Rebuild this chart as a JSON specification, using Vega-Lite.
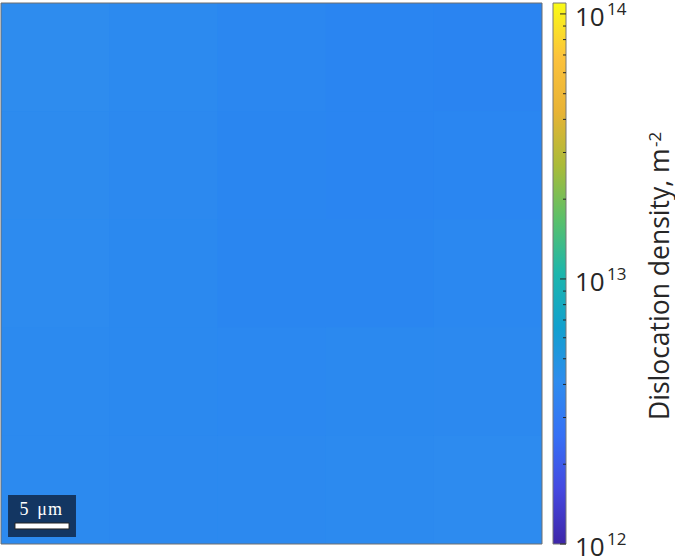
{
  "$schema": "https://vega.github.io/schema/vega-lite/v6.json",
  "padding": {"left": 0, "top": 0, "right": 0, "bottom": 0},
  "background": "white",
  "spacing": 9,
  "config": {"view": {"stroke": null}, "font": "Open Sans"},
  "datasets": {
    "map": [
      {"x0": 0, "x1": 10, "y0": 40, "y1": 50, "rho": 4.1e12},
      {"x0": 10, "x1": 20, "y0": 40, "y1": 50, "rho": 3.95e12},
      {"x0": 20, "x1": 30, "y0": 40, "y1": 50, "rho": 3.75e12},
      {"x0": 30, "x1": 40, "y0": 40, "y1": 50, "rho": 3.6e12},
      {"x0": 40, "x1": 50, "y0": 40, "y1": 50, "rho": 3.55e12},
      {"x0": 0, "x1": 10, "y0": 30, "y1": 40, "rho": 4.05e12},
      {"x0": 10, "x1": 20, "y0": 30, "y1": 40, "rho": 3.9e12},
      {"x0": 20, "x1": 30, "y0": 30, "y1": 40, "rho": 3.7e12},
      {"x0": 30, "x1": 40, "y0": 30, "y1": 40, "rho": 3.6e12},
      {"x0": 40, "x1": 50, "y0": 30, "y1": 40, "rho": 3.65e12},
      {"x0": 0, "x1": 10, "y0": 20, "y1": 30, "rho": 4.0e12},
      {"x0": 10, "x1": 20, "y0": 20, "y1": 30, "rho": 3.85e12},
      {"x0": 20, "x1": 30, "y0": 20, "y1": 30, "rho": 3.7e12},
      {"x0": 30, "x1": 40, "y0": 20, "y1": 30, "rho": 3.7e12},
      {"x0": 40, "x1": 50, "y0": 20, "y1": 30, "rho": 3.8e12},
      {"x0": 0, "x1": 10, "y0": 10, "y1": 20, "rho": 3.95e12},
      {"x0": 10, "x1": 20, "y0": 10, "y1": 20, "rho": 3.85e12},
      {"x0": 20, "x1": 30, "y0": 10, "y1": 20, "rho": 3.8e12},
      {"x0": 30, "x1": 40, "y0": 10, "y1": 20, "rho": 3.85e12},
      {"x0": 40, "x1": 50, "y0": 10, "y1": 20, "rho": 3.9e12},
      {"x0": 0, "x1": 10, "y0": 0, "y1": 10, "rho": 3.95e12},
      {"x0": 10, "x1": 20, "y0": 0, "y1": 10, "rho": 3.9e12},
      {"x0": 20, "x1": 30, "y0": 0, "y1": 10, "rho": 3.9e12},
      {"x0": 30, "x1": 40, "y0": 0, "y1": 10, "rho": 3.95e12},
      {"x0": 40, "x1": 50, "y0": 0, "y1": 10, "rho": 4.0e12}
    ],
    "base": [{"x0": 0, "x1": 50, "y0": 0, "y1": 50, "rho": 3.85e12}],
    "frame": [{"x0": 0, "x1": 50, "y0": 0, "y1": 50}],
    "sbox": [{"x0": 0.65, "x1": 6.93, "y0": 0.65, "y1": 4.53}],
    "sbar": [{"x0": 1.29, "x1": 6.29, "y0": 1.39, "y1": 1.94}],
    "stext": [
      {"x": 2.13, "y": 2.68, "t": "5", "italic": false},
      {"x": 3.79, "y": 2.68, "t": "μ", "italic": true},
      {"x": 5.0, "y": 2.68, "t": "m", "italic": false}
    ],
    "cbar": [{"lo": 1e12, "hi": 1.0995e14}],
    "minor": [
      {"v": 2e12}, {"v": 3e12}, {"v": 4e12}, {"v": 5e12}, {"v": 6e12}, {"v": 7e12}, {"v": 8e12}, {"v": 9e12},
      {"v": 2e13}, {"v": 3e13}, {"v": 4e13}, {"v": 5e13}, {"v": 6e13}, {"v": 7e13}, {"v": 8e13}, {"v": 9e13}
    ],
    "major": [
      {"v": 1e12, "exp": "12"}, {"v": 1e13, "exp": "13"}, {"v": 1e14, "exp": "14"}
    ]
  },
  "hconcat": [
    {
      "width": 541,
      "height": 541,
      "layer": [
        {
          "data": {"name": "base"},
          "mark": {"type": "rect"},
          "encoding": {
            "x": {"field": "x0", "type": "quantitative", "scale": {"domain": [0, 50], "nice": false, "zero": false}, "axis": null},
            "x2": {"field": "x1"},
            "y": {"field": "y0", "type": "quantitative", "scale": {"domain": [0, 50], "nice": false, "zero": false}, "axis": null},
            "y2": {"field": "y1"},
            "color": {
              "field": "rho", "type": "quantitative", "legend": null,
              "scale": {
                "type": "log",
                "domain": [1e12, 1.6e12, 2.56e12, 4.096e12, 6.5536e12, 1.04858e13, 1.67772e13, 2.68435e13, 4.29497e13, 6.87195e13, 1.0995e14],
                "range": ["#3e26a8", "#4548e0", "#3670f5", "#2e8cee", "#12a0ce", "#1cb6ac", "#5ac06a", "#aabb38", "#e8b335", "#fcc23c", "#f9fb15"]
              }
            }
          }
        },
        {
          "data": {"name": "map"},
          "mark": {"type": "rect"},
          "encoding": {
            "x": {"field": "x0", "type": "quantitative"},
            "x2": {"field": "x1"},
            "y": {"field": "y0", "type": "quantitative"},
            "y2": {"field": "y1"},
            "color": {"field": "rho", "type": "quantitative", "legend": null}
          }
        },
        {
          "data": {"name": "sbox"},
          "mark": {"type": "rect", "color": "#133662"},
          "encoding": {
            "x": {"field": "x0", "type": "quantitative"},
            "x2": {"field": "x1"},
            "y": {"field": "y0", "type": "quantitative"},
            "y2": {"field": "y1"}
          }
        },
        {
          "data": {"name": "sbar"},
          "mark": {"type": "rect", "fill": "white", "stroke": "#222222", "strokeWidth": 1},
          "encoding": {
            "x": {"field": "x0", "type": "quantitative"},
            "x2": {"field": "x1"},
            "y": {"field": "y0", "type": "quantitative"},
            "y2": {"field": "y1"}
          }
        },
        {
          "data": {"name": "stext"},
          "mark": {"type": "text", "font": "Liberation Serif", "fontSize": 18, "color": "white", "align": "center", "baseline": "alphabetic"},
          "encoding": {
            "x": {"field": "x", "type": "quantitative"},
            "y": {"field": "y", "type": "quantitative"},
            "text": {"field": "t"},
            "fontStyle": {"condition": {"test": "datum.italic", "value": "italic"}, "value": "normal"}
          }
        },
        {
          "data": {"name": "frame"},
          "mark": {"type": "rect", "fillOpacity": 0, "stroke": "#6e6e6e", "strokeWidth": 1},
          "encoding": {
            "x": {"field": "x0", "type": "quantitative"},
            "x2": {"field": "x1"},
            "y": {"field": "y0", "type": "quantitative"},
            "y2": {"field": "y1"}
          }
        }
      ]
    },
    {
      "width": 13,
      "height": 541,
      "layer": [
        {
          "data": {"name": "cbar"},
          "mark": {
            "type": "rect",
            "stroke": "#777777",
            "strokeWidth": 1,
            "fill": {
              "gradient": "linear", "x1": 0, "y1": 1, "x2": 0, "y2": 0,
              "stops": [
                {"offset": 0, "color": "#3e26a8"},
                {"offset": 0.1, "color": "#4548e0"},
                {"offset": 0.2, "color": "#3670f5"},
                {"offset": 0.3, "color": "#2e8cee"},
                {"offset": 0.4, "color": "#12a0ce"},
                {"offset": 0.5, "color": "#1cb6ac"},
                {"offset": 0.6, "color": "#5ac06a"},
                {"offset": 0.7, "color": "#aabb38"},
                {"offset": 0.8, "color": "#e8b335"},
                {"offset": 0.9, "color": "#fcc23c"},
                {"offset": 1, "color": "#f9fb15"}
              ]
            }
          },
          "encoding": {
            "x": {"datum": 0, "type": "quantitative", "scale": {"domain": [0, 1], "nice": false, "zero": false}, "axis": null},
            "x2": {"datum": 1},
            "y": {"field": "lo", "type": "quantitative", "scale": {"type": "log", "domain": [1e12, 1.0995e14], "nice": false}, "axis": null},
            "y2": {"field": "hi"}
          }
        },
        {
          "data": {"name": "minor"},
          "mark": {"type": "rule", "color": "#262626", "strokeWidth": 1},
          "encoding": {
            "x": {"datum": 0.77, "type": "quantitative"},
            "x2": {"datum": 1},
            "y": {"field": "v", "type": "quantitative"}
          }
        },
        {
          "data": {"name": "major"},
          "mark": {"type": "rule", "color": "#262626", "strokeWidth": 1},
          "encoding": {
            "x": {"datum": 0.54, "type": "quantitative"},
            "x2": {"datum": 1},
            "y": {"field": "v", "type": "quantitative"}
          }
        },
        {
          "data": {"name": "major"},
          "mark": {"type": "text", "fontSize": 26, "color": "#262626", "align": "left", "baseline": "middle", "dx": 9, "dy": 4},
          "encoding": {
            "x": {"datum": 1, "type": "quantitative"},
            "y": {"field": "v", "type": "quantitative"},
            "text": {"value": "10"}
          }
        },
        {
          "data": {"name": "major"},
          "mark": {"type": "text", "fontSize": 17, "color": "#262626", "align": "left", "baseline": "alphabetic", "dx": 41, "dy": 1},
          "encoding": {
            "x": {"datum": 1, "type": "quantitative"},
            "y": {"field": "v", "type": "quantitative"},
            "text": {"field": "exp"}
          }
        },
        {
          "data": {"values": [{"v": 1e12, "t": "Dislocation density, m"}]},
          "mark": {"type": "text", "fontSize": 26.5, "color": "#262626", "align": "left", "baseline": "alphabetic", "angle": 270, "dx": 124, "dy": 103},
          "encoding": {
            "x": {"datum": 1, "type": "quantitative"},
            "y": {"field": "v", "type": "quantitative"},
            "text": {"field": "t"}
          }
        },
        {
          "data": {"values": [{"v": 1e12, "t": "-2"}]},
          "mark": {"type": "text", "fontSize": 17, "color": "#262626", "align": "left", "baseline": "alphabetic", "angle": 270, "dx": 397, "dy": 95},
          "encoding": {
            "x": {"datum": 1, "type": "quantitative"},
            "y": {"field": "v", "type": "quantitative"},
            "text": {"field": "t"}
          }
        }
      ]
    }
  ]
}
